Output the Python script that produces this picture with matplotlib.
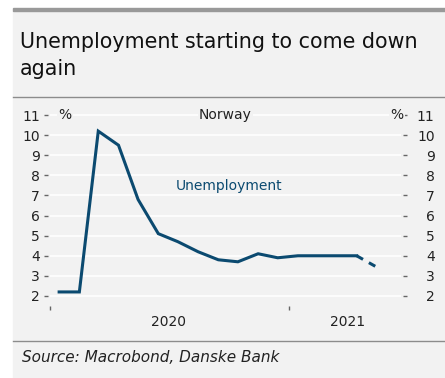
import matplotlib
matplotlib.use("Agg")
import matplotlib.pyplot as plt
import matplotlib.transforms as mtrans
import pandas as pd

#data (monthly, % of labour force)
months = ["2020-01", "2020-02", "2020-03", "2020-04", "2020-05", "2020-06",
          "2020-07", "2020-08", "2020-09", "2020-10", "2020-11", "2020-12",
          "2021-01", "2021-02", "2021-03", "2021-04"]
unemployment = [2.2, 2.2, 10.2, 9.5, 6.8, 5.1, 4.7, 4.2, 3.8, 3.7, 4.1, 3.9,
                4.0, 4.0, 4.0, 4.0]
forecast_months = ["2021-04", "2021-05"]
forecast = [4.0, 3.45]
yticks = [2, 3, 4, 5, 6, 7, 8, 9, 10, 11]
year_ticks = ["2020-01-01", "2021-01-01"]
year_labels = ["2020", "2021"]
year_label_pos = ["2020-07-01", "2021-04-01"]

blue = "#0b4a70"
panel = "#f2f2f2"
txt = "#222222"
font = "DejaVu Sans"

dates = pd.to_datetime(months) + pd.Timedelta(days=14)
fdates = pd.to_datetime(forecast_months) + pd.Timedelta(days=14)

fig = plt.figure(figsize=(4.45, 3.78), dpi=100)
W, H = 445, 378

#grey panel with top bar and separator lines
fig.patches.append(plt.Rectangle((13 / W, 0), 1, 367 / H, transform=fig.transFigure,
                                 color=panel, zorder=0))
fig.patches.append(plt.Rectangle((13 / W, (H - 11) / H), 1, 3 / H, transform=fig.transFigure,
                                 color="#999999", zorder=1))
fig.lines.append(plt.Line2D([13 / W, 1], [(H - 97) / H] * 2, transform=fig.transFigure,
                            color="#8c8c8c", lw=1))
fig.lines.append(plt.Line2D([13 / W, 1], [(H - 341) / H] * 2, transform=fig.transFigure,
                            color="#8c8c8c", lw=1))

fig.text(20 / W, (H - 48) / H, "Unemployment starting to come down", family=font,
         fontsize=14.9, color="#111111", va="baseline", ha="left")
fig.text(20 / W, (H - 75) / H, "again", family=font,
         fontsize=14.9, color="#111111", va="baseline", ha="left")
fig.text(22 / W, (H - 357) / H, "Source: Macrobond, Danske Bank", family=font,
         fontsize=11, style="italic", color=txt, va="center")

ax = fig.add_axes([50 / W, (H - 304) / H, (401 - 50) / W, (304 - 100) / H])
ax.set_zorder(3)
ax.set_facecolor(panel)
ax.plot(dates, unemployment, color=blue, lw=2.2, solid_joinstyle="miter", zorder=3)
ax.plot(fdates, forecast, color=blue, lw=2.2, dashes=(2.4, 2.2), zorder=3)

ax.set_xlim(pd.Timestamp("2020-01-01"), pd.Timestamp("2021-06-22"))
ax.set_ylim(1.6, 11.75)
ax.set_yticks(yticks)
ax.grid(axis="y", color="white", lw=1.2, zorder=1)
for s in ax.spines.values():
    s.set_visible(False)
ax.spines["left"].set_position(("outward", 1.4))
ax.spines["right"].set_position(("outward", 1.4))
ax.spines["bottom"].set_position(("outward", 1.5))

ax.tick_params(axis="y", left=True, right=True, labelleft=True, labelright=True,
               length=2.9, width=1, color="#666666", labelsize=10, labelcolor=txt, pad=2.9)
# right labels are right aligned in the original, so shift them out
shift = mtrans.ScaledTranslation(17 / 72, 0, fig.dpi_scale_trans)
for tick in ax.yaxis.get_major_ticks():
    tick.label2.set_horizontalalignment("right")
    tick.label2.set_transform(tick.label2.get_transform() + shift)

ax.set_xticks(pd.to_datetime(year_ticks))
ax.set_xticklabels([])
ax.tick_params(axis="x", length=3, width=1, color="#666666")
for pos, lab in zip(year_label_pos, year_labels):
    ax.text(pd.Timestamp(pos), -0.09, lab, transform=ax.get_xaxis_transform(),
            ha="center", va="center", family=font, fontsize=10, color=txt)

bb = dict(facecolor=panel, edgecolor="none", pad=1)
ytr = ax.get_yaxis_transform()
ax.text(0.043, 11, "%", ha="center", va="center", fontsize=10, color=txt,
        transform=ytr, bbox=bb)
ax.text(0.989, 11, "%", ha="center", va="center", fontsize=10, color=txt,
        transform=ytr, bbox=bb)
ax.text(0.5, 11, "Norway", ha="center", va="center", fontsize=10, color=txt,
        transform=ytr, bbox=bb)
ax.text(pd.Timestamp("2020-10-01"), 7.45, "Unemployment", ha="center", va="center",
        fontsize=10, color=blue)

fig.savefig("out.png", dpi=100, facecolor="white")
